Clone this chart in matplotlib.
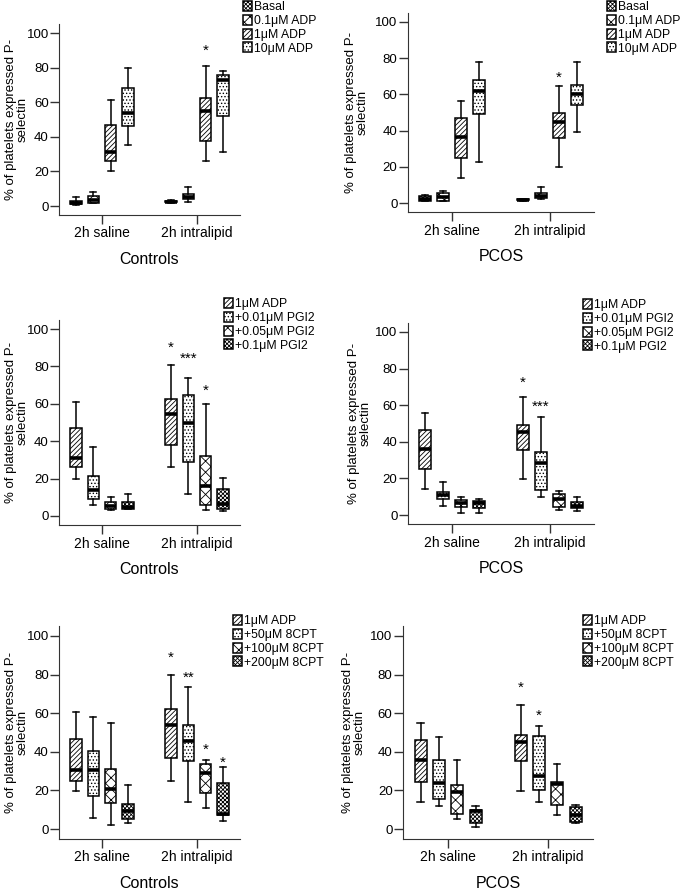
import matplotlib.pyplot as plt
import numpy as np

plt.rcParams['font.family'] = ['Liberation Sans', 'DejaVu Sans']
plt.rcParams['hatch.linewidth'] = 0.6

groups = ['2h saline', '2h intralipid']
adp_labels = ['Basal', '0.1μM ADP', '1μM ADP', '10μM ADP']
pgi_labels = ['1μM ADP', '+0.01μM PGI2', '+0.05μM PGI2', '+0.1μM PGI2']
cpt_labels = ['1μM ADP', '+50μM 8CPT', '+100μM 8CPT', '+200μM 8CPT']

# five-number summaries per box: whisker low, Q1, median, Q3, whisker high
ctrl_adp_saline = [[0.5, 1.2, 2, 3, 5], [1.5, 2, 3.5, 6, 8], [20, 26, 31, 47, 61], [35, 46, 54, 68, 80]]
ctrl_adp_lipid = [[2, 2.2, 2.5, 3, 3.2], [2.5, 4, 5, 7, 11], [26, 37.5, 55, 62.5, 81], [31, 52, 73, 76, 78]]
pcos_adp_saline = [[1, 1.5, 2.5, 4, 4.5], [1, 1.5, 3.5, 5.5, 7], [14, 25, 36.5, 47, 56.5], [23, 49, 62, 68, 78]]
pcos_adp_lipid = [[1.3, 1.6, 2, 2.4, 2.6], [2.2, 2.8, 3.8, 5.5, 9], [20, 36, 45, 49.5, 64.5], [39, 54, 60, 65, 78]]

ctrl_pgi_saline = [[20, 26, 31, 47, 61], [6, 9, 14, 21.5, 37], [3, 3.5, 5.5, 7.5, 10], [3.5, 4, 5, 7.5, 12]]
ctrl_pgi_lipid = [[26, 38, 54.5, 62.5, 81], [12, 29, 50, 64.5, 74], [3, 6, 16, 32, 60], [2.7, 4, 6.5, 14.5, 20.5]]
pcos_pgi_saline = [[14, 25, 36, 46.5, 56], [5, 9, 11, 12.7, 18], [1.3, 4.2, 6.4, 8.2, 9.6], [1.3, 3.6, 6.3, 7.8, 9]]
pcos_pgi_lipid = [[19.6, 35.5, 45.5, 49, 64.5], [9.6, 13.6, 28.5, 34.5, 53.6], [2.7, 4.5, 8.5, 11.5, 13.3], [2.4, 3.6, 5, 7, 10]]

ctrl_cpt_saline = [[19.5, 25, 30.5, 46.5, 60.5], [5.7, 17, 30.5, 40.5, 58], [2, 13.5, 20.5, 31, 55], [3, 5, 9.5, 13, 23]]
ctrl_cpt_lipid = [[25, 37, 54, 62, 80], [14, 35, 45.5, 54, 73.5], [11, 18.5, 29, 33.5, 35.5], [4.3, 7, 8, 24, 32]]
pcos_cpt_saline = [[14, 24.5, 36, 46, 55], [12, 15.5, 24, 36, 47.5], [5, 8, 19, 23, 36], [1, 3, 9.5, 10, 12]]
pcos_cpt_lipid = [[19.5, 35, 45, 48.5, 64], [14, 20, 27.5, 48, 53.5], [7, 12.5, 23.5, 24.5, 33.5], [3, 3.5, 7.5, 11.5, 12.5]]

# significance marks: (group index, series index, y, text)
ctrl_adp_stars = [(1, 2, 90, '*')]
pcos_adp_stars = [(1, 2, 69, '*')]
ctrl_pgi_stars = [(1, 0, 90, '*'), (1, 1, 84, '***'), (1, 2, 67, '*')]
pcos_pgi_stars = [(1, 0, 72.5, '*'), (1, 1, 59, '***')]
ctrl_cpt_stars = [(1, 0, 88.5, '*'), (1, 1, 78.5, '**'), (1, 2, 41, '*'), (1, 3, 34.5, '*')]
pcos_cpt_stars = [(1, 0, 73, '*'), (1, 1, 58.5, '*')]

adp_hatch = ['xxxxxxxx', 'xxx', '///////', '.....']
inh_hatch = ['///////', '.....', 'xxx', 'xxxxxxxx']

offsets = [-0.275, -0.092, 0.092, 0.275]
W, H = 682, 891


def draw_panel(fig, px, saline, lipid, labels, hatches, stars, xlabel, leg_xy, ylab_x):
    # px = (x of first category, x of second category, y of 0, y of 100) in pixels
    c0, c1, y0, y100 = px
    sx = c1 - c0
    sy = (y0 - y100) / 100
    left = c0 - 0.45 * sx
    top = y0 - 105 * sy
    bottom = y0 + 5 * sy
    ax = fig.add_axes([left / W, 1 - bottom / H, 1.9 * sx / W, (bottom - top) / H])

    stats, pos, hs = [], [], []
    for g, data in enumerate([saline, lipid]):
        for i, v in enumerate(data):
            stats.append(dict(whislo=v[0], q1=v[1], med=v[2], q3=v[3], whishi=v[4], fliers=[]))
            pos.append(g + offsets[i])
            hs.append(hatches[i])
    bp = ax.bxp(stats, positions=pos, widths=0.12, capwidths=0.065, patch_artist=True,
                showfliers=False,
                boxprops=dict(facecolor='white', edgecolor='black', linewidth=1.1),
                medianprops=dict(color='black', linewidth=2.6),
                whiskerprops=dict(color='black', linewidth=1.1),
                capprops=dict(color='black', linewidth=1.1))
    for box, h in zip(bp['boxes'], hs):
        box.set_hatch(h)

    for g, i, y, s in stars:
        ax.text(g + offsets[i], y, s, ha='center', va='center', fontsize=11, color='black')

    ax.set_xlim(-0.45, 1.45)
    ax.set_ylim(-5, 105)
    ax.set_xticks([0, 1], groups)
    ax.set_yticks(np.arange(0, 101, 20))
    for s in ['top', 'right']:
        ax.spines[s].set_visible(False)
    for s in ['left', 'bottom']:
        ax.spines[s].set_color('#333333')
    ax.tick_params(direction='out', length=6.5, width=1, labelsize=9.5, color='#333333', pad=1)
    ax.tick_params(axis='x', labelsize=10, pad=2)
    ax.set_ylabel('% of platelets expressed P-\nselectin', fontsize=9.5, linespacing=0.95)
    ax.yaxis.set_label_coords((ylab_x - left) / (1.9 * sx), 0.5)
    ax.set_xlabel(xlabel, fontsize=11.5, labelpad=8)

    fig.legend(handles=bp['boxes'][:4], labels=labels, loc='upper left',
               bbox_to_anchor=(leg_xy[0] / W, 1 - leg_xy[1] / H), frameon=False,
               fontsize=8.8, handlelength=0.75, handleheight=0.9, handletextpad=0.15,
               labelspacing=0.12, borderpad=0, borderaxespad=0)
    return ax


fig = plt.figure(figsize=(W / 100, H / 100), dpi=100)

draw_panel(fig, (102, 197, 206, 33), ctrl_adp_saline, ctrl_adp_lipid, adp_labels, adp_hatch,
           ctrl_adp_stars, 'Controls', (243, 1), 29)
draw_panel(fig, (452, 550, 203.3, 21.7), pcos_adp_saline, pcos_adp_lipid, adp_labels, adp_hatch,
           pcos_adp_stars, 'PCOS', (607, 1), 369)
draw_panel(fig, (102, 197, 516, 329), ctrl_pgi_saline, ctrl_pgi_lipid, pgi_labels, inh_hatch,
           ctrl_pgi_stars, 'Controls', (224, 298), 29)
draw_panel(fig, (452, 550, 515, 332), pcos_pgi_saline, pcos_pgi_lipid, pgi_labels, inh_hatch,
           pcos_pgi_stars, 'PCOS', (583, 299), 372)
draw_panel(fig, (102, 197, 829, 636), ctrl_cpt_saline, ctrl_cpt_lipid, cpt_labels, inh_hatch,
           ctrl_cpt_stars, 'Controls', (233, 615), 29)
draw_panel(fig, (448, 548, 829, 636), pcos_cpt_saline, pcos_cpt_lipid, cpt_labels, inh_hatch,
           pcos_cpt_stars, 'PCOS', (583, 615), 366)

fig.savefig('out.png', dpi=100)
